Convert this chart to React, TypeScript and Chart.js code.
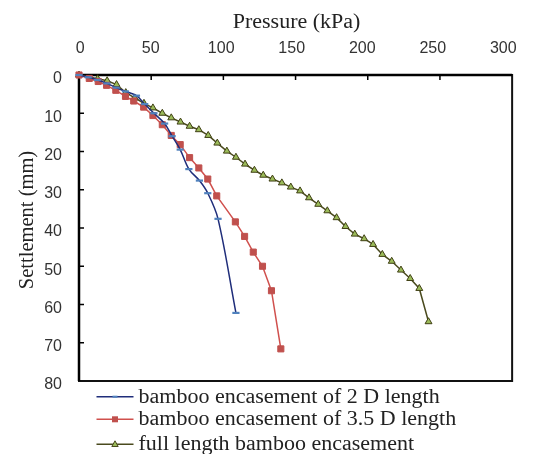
import React, { useEffect, useRef } from "react";
import { Chart, registerables } from "chart.js";

Chart.register(...registerables);

// ---- Data ----
const pressure2D = [0, 6.4, 12.9, 19.3, 25.7, 32.2, 39.8, 45.5, 51.9, 59.3, 64.5, 70.1, 76.1, 83.4, 89.2, 96.3, 108.7];
const settlement2D = [0, 0.6, 1.3, 2.2, 3.3, 4.3, 5.4, 7.6, 10.0, 12.7, 16.0, 19.5, 24.6, 27.6, 30.9, 37.6, 62.2];

const pressure35D = [0, 7.1, 13.3, 19.1, 25.5, 32.2, 37.9, 44.8, 51.2, 57.7, 63.9, 70.1, 76.6, 83, 89.2, 95.4, 108.3, 114.7, 120.7, 127.1, 133.3, 139.8];
const settlement35D = [0, 0.9, 1.7, 2.7, 4.0, 5.6, 6.8, 8.4, 10.6, 13.0, 15.8, 18.2, 21.6, 24.3, 27.2, 31.6, 38.4, 42.2, 46.3, 50.0, 56.4, 71.6];

const pressureFull = [0, 12.9, 19.5, 26, 32.4, 38.6, 45, 51.2, 57.7, 63.9, 70.3, 76.6, 83, 89.5, 95.8, 102.4, 108.7, 115, 121.5, 127.6, 134, 140.5, 146.7, 153.1, 159.3, 165.7, 172, 178.4, 184.6, 191, 197.5, 203.7, 210.1, 216.6, 223, 229.4, 235.7, 242.1];
const settlementFull = [0, 1.0, 1.5, 2.5, 4.6, 6.0, 7.4, 8.6, 10.0, 11.2, 12.3, 13.4, 14.3, 15.8, 17.8, 19.9, 21.5, 23.3, 24.9, 26.2, 27.2, 28.2, 29.3, 30.3, 32.1, 33.8, 35.5, 37.3, 39.6, 41.6, 42.8, 44.3, 46.9, 48.7, 51.0, 53.2, 55.8, 64.5];

const seriesNames = [
  "bamboo encasement of 2 D length",
  "bamboo encasement of 3.5 D length",
  "full length bamboo encasement",
];
const xTitle = "Pressure (kPa)";
const yTitle = "Settlement (mm)";
const xMin = 0, xMax = 300, xStep = 50;
const yMin = 0, yMax = 80, yStep = 10;

const toPts = (xs: number[], ys: number[]) => xs.map((x, i) => ({ x, y: ys[i] }));

const SERIF = "'Liberation Serif', 'Times New Roman', serif";
const SANS = "'Liberation Sans', Arial, sans-serif";

const styles = [
  { line: "#1F2D7A", point: "#4F81BD", pointStyle: "line", radius: 3.6, pbw: 2.2, lw: 1.5 },
  { line: "#D0504D", point: "#C0504D", pointStyle: "rect", radius: 4.3, pbw: 1, lw: 1.5 },
  { line: "#4A4A1E", point: "#9BBB59", pointStyle: "triangle", radius: 4, pbw: 1, lw: 1.5 },
];

const decor = {
  id: "decor",
  beforeDatasetsDraw(chart: any) {
    const { ctx, chartArea: a, scales } = chart;
    ctx.save();
    ctx.strokeStyle = "#111";
    ctx.lineWidth = 2;
    ctx.strokeRect(a.left, a.top, a.right - a.left, a.bottom - a.top);
    ctx.strokeStyle = "#000";
    ctx.lineWidth = 2.5;
    ctx.beginPath();
    ctx.moveTo(a.left, a.bottom);
    ctx.lineTo(a.left, a.top);
    ctx.lineTo(a.right, a.top);
    ctx.stroke();
    ctx.lineWidth = 1.5;
    ctx.beginPath();
    scales.x.ticks.forEach((t: any) => {
      const px = scales.x.getPixelForValue(t.value);
      if (px > a.left + 2 && px < a.right - 2) {
        ctx.moveTo(px, a.top);
        ctx.lineTo(px, a.top + 5);
      }
    });
    scales.y.ticks.forEach((t: any) => {
      const py = scales.y.getPixelForValue(t.value);
      if (py > a.top + 2 && py < a.bottom - 2) {
        ctx.moveTo(a.left, py);
        ctx.lineTo(a.left + 5, py);
      }
    });
    ctx.stroke();
    ctx.restore();
  },
  afterDraw(chart: any) {
    const { ctx, chartArea: a } = chart;
    ctx.save();
    ctx.fillStyle = "#222";
    // x title
    ctx.font = `20px ${SERIF}`;
    ctx.textAlign = "center";
    ctx.textBaseline = "alphabetic";
    ctx.save();
    ctx.translate((a.left + a.right) / 2 + 1, 27.5);
    ctx.scale(1.1, 1);
    ctx.fillText(xTitle, 0, 0);
    ctx.restore();
    // y title
    ctx.save();
    ctx.font = `20.5px ${SERIF}`;
    ctx.translate(33, 220);
    ctx.rotate(-Math.PI / 2);
    ctx.fillText(yTitle, 0, 0);
    ctx.restore();
    // legend
    const baselines = [402.7, 425.3, 450.3];
    ctx.font = `20px ${SERIF}`;
    ctx.textAlign = "left";
    seriesNames.forEach((name, i) => {
      const s = styles[i];
      const b = baselines[i];
      const ly = b - 6;
      ctx.strokeStyle = s.line;
      ctx.lineWidth = s.lw;
      ctx.beginPath();
      ctx.moveTo(96.5, ly);
      ctx.lineTo(133.5, ly);
      ctx.stroke();
      const cx = 115;
      if (s.pointStyle === "line") {
        ctx.strokeStyle = s.point;
        ctx.lineWidth = 2;
        ctx.beginPath();
        ctx.moveTo(cx - 2.5, ly);
        ctx.lineTo(cx + 2.5, ly);
        ctx.stroke();
      } else if (s.pointStyle === "rect") {
        ctx.fillStyle = s.point;
        ctx.fillRect(cx - 3, ly - 3, 6, 6);
      } else {
        ctx.fillStyle = s.point;
        ctx.strokeStyle = s.line;
        ctx.lineWidth = 1;
        ctx.beginPath();
        ctx.moveTo(cx, ly - 3.5);
        ctx.lineTo(cx + 3.2, ly + 2.2);
        ctx.lineTo(cx - 3.2, ly + 2.2);
        ctx.closePath();
        ctx.fill();
        ctx.stroke();
      }
      ctx.fillStyle = "#222";
      ctx.save();
      ctx.translate(138.5, b);
      ctx.scale(1.1, 1);
      ctx.fillText(name, 0, 0);
      ctx.restore();
    });
    ctx.restore();
  },
};

export default function App() {
  const ref = useRef<HTMLCanvasElement>(null);
  useEffect(() => {
    document.body.style.margin = "0";
    const canvas = ref.current!;
    const makeDs = (label: string, xs: number[], ys: number[], i: number, tension: number) => {
      const s = styles[i];
      return {
        label,
        data: toPts(xs, ys),
        showLine: true,
        borderColor: s.line,
        borderWidth: s.lw,
        backgroundColor: s.point,
        pointStyle: s.pointStyle,
        pointRadius: s.radius,
        pointBorderWidth: s.pbw,
        pointBackgroundColor: s.point,
        pointBorderColor: i === 2 ? "#3F3F14" : s.point,
        tension,
        clip: false,
      };
    };
    const chart = new Chart(canvas, {
      type: "scatter",
      data: {
        datasets: [
          makeDs(seriesNames[0], pressure2D, settlement2D, 0, 0.35),
          makeDs(seriesNames[1], pressure35D, settlement35D, 1, 0),
          makeDs(seriesNames[2], pressureFull, settlementFull, 2, 0),
        ] as any,
      },
      options: {
        animation: false,
        responsive: false,
        maintainAspectRatio: false,
        layout: { padding: { top: 0, left: 0, right: 20, bottom: 73 } },
        plugins: { legend: { display: false }, tooltip: { enabled: false }, title: { display: false } },
        scales: {
          x: {
            type: "linear",
            position: "top",
            min: xMin,
            max: xMax,
            grid: { display: false, drawTicks: false },
            border: { display: false },
            ticks: { display: false, stepSize: xStep },
            afterFit: (s: any) => { s.height = 0; },
          },
          xLabels: {
            type: "linear",
            position: "top",
            axis: "x",
            min: -0.85,
            max: 306.3,
            grid: { display: false, drawTicks: false },
            border: { display: false },
            ticks: {
              stepSize: xStep,
              includeBounds: false,
              padding: 17,
              color: "#333",
              font: { family: SANS, size: 16 },
              maxRotation: 0,
              autoSkip: false,
            },
            afterFit: (s: any) => { s.height = 75; },
          },
          y: {
            type: "linear",
            reverse: true,
            min: yMin,
            max: yMax,
            grid: { display: false, drawTicks: false },
            border: { display: false },
            ticks: {
              stepSize: yStep,
              padding: 17,
              labelOffset: 4,
              color: "#333",
              font: { family: SANS, size: 16 },
            },
            afterFit: (s: any) => { s.width = 79; },
          },
        },
      } as any,
      plugins: [decor],
    });
    return () => chart.destroy();
  }, []);
  return (
    <div style={{ width: 534, height: 454, background: "#fff" }}>
      <canvas ref={ref} width={534} height={454} style={{ display: "block" }} />
    </div>
  );
}
